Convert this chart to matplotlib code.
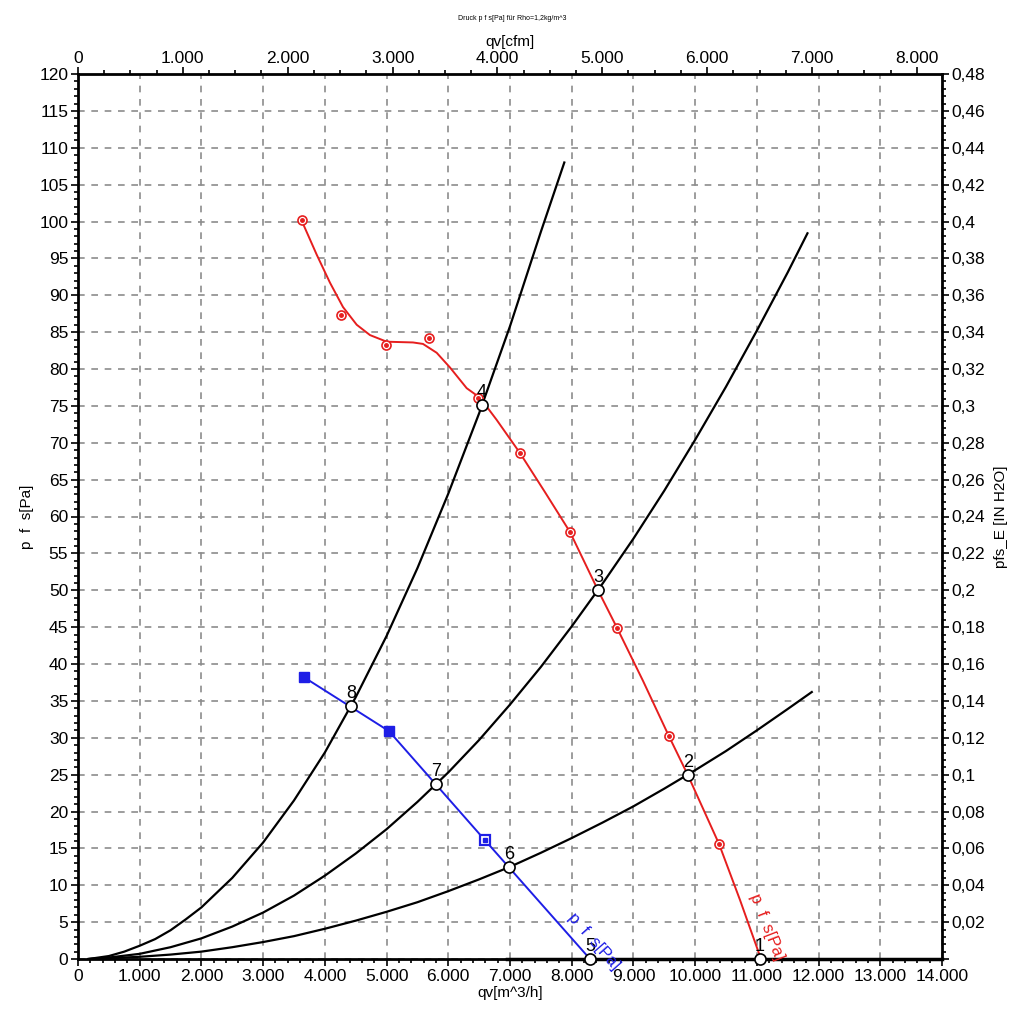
import numpy as np
import matplotlib
matplotlib.use('Agg')
import matplotlib.pyplot as plt
from matplotlib.ticker import MultipleLocator, FuncFormatter

plt.rcParams['font.family'] = ['Liberation Sans', 'DejaVu Sans']

# fan curve p fs [Pa] (red), smooth line
red_q = [3625, 3868, 4083, 4294, 4516, 4731, 5002, 5428, 5590, 5812, 6028, 6298,
         6514, 6784, 7162, 7567, 7972, 8426, 8734, 9156, 9576, 9884, 10387, 10727, 11067]
red_p = [100.1, 95.5, 91.7, 88.4, 86.0, 84.6, 83.7, 83.6, 83.4, 82.2, 80.2, 77.4,
         76.1, 73.1, 68.6, 63.3, 57.9, 50.0, 44.9, 37.7, 30.2, 24.9, 15.6, 8.0, 0.0]
# measured points on red curve
red_mq = [3630, 4262, 4991, 5688, 6482, 7163, 7973, 8735, 9577, 10387]
red_mp = [100.2, 87.3, 83.3, 84.2, 76.1, 68.6, 57.9, 44.9, 30.2, 15.6]

# second fan curve (blue)
blue_q = [3662, 5039, 6595, 8296]
blue_p = [38.2, 30.9, 16.1, 0.0]

# system curves (black)
sysA_q = [170, 500, 750, 1000, 1250, 1500, 1750, 2000, 2500, 3000, 3500, 4000, 4500,
          5000, 5500, 6000, 6500, 7000, 7500, 7880]
sysA_p = [0.0, 0.4, 1.0, 1.8, 2.7, 3.9, 5.4, 7.0, 11.0, 15.8, 21.5, 28.0, 35.5,
          43.8, 53.0, 63.1, 74.0, 85.8, 98.6, 108.0]
sysB_q = [170, 500, 1000, 1500, 2000, 2500, 3000, 3500, 4000, 4500, 5000, 5500, 6000,
          6500, 7000, 7500, 8000, 8500, 9000, 9500, 10000, 10500, 11000, 11500, 11820]
sysB_p = [0.0, 0.2, 0.7, 1.6, 2.8, 4.4, 6.3, 8.6, 11.3, 14.3, 17.6, 21.3, 25.3,
          29.7, 34.5, 39.6, 45.1, 50.9, 57.0, 63.5, 70.4, 77.6, 85.2, 93.1, 98.4]
sysC_q = [170, 500, 1000, 1500, 2000, 2500, 3000, 3500, 4000, 4500, 5000, 5500, 6000,
          6500, 7000, 7500, 8000, 8500, 9000, 9500, 10000, 10500, 11000, 11500, 11890]
sysC_p = [0.0, 0.1, 0.3, 0.6, 1.0, 1.6, 2.3, 3.1, 4.1, 5.2, 6.4, 7.7, 9.2,
          10.8, 12.5, 14.4, 16.4, 18.5, 20.7, 23.1, 25.6, 28.2, 31.0, 33.9, 36.2]

# operating points
op_labels = ['1', '2', '3', '4', '5', '6', '7', '8']
op_q = [11052, 9884, 8426, 6547, 8296, 6984, 5801, 4424]
op_p = [0.0, 24.9, 50.0, 75.1, 0.0, 12.5, 23.7, 34.3]

CFM = 1.699
INH2O = 0.004


def thousands(v, pos):
    return '{:,}'.format(int(round(v))).replace(',', '.')


def comma(v, pos):
    if v < 1e-6:
        return ''
    return ('%.2f' % v).rstrip('0').replace('.', ',')


fig = plt.figure(figsize=(10.24, 10.17), dpi=100)
ax = fig.add_axes([78 / 1024, 58 / 1017, 864 / 1024, 885 / 1017])

ax.set_xlim(0, 14000)
ax.set_ylim(0, 120)
ax.xaxis.set_major_locator(MultipleLocator(1000))
ax.xaxis.set_minor_locator(MultipleLocator(200))
ax.yaxis.set_major_locator(MultipleLocator(5))
ax.yaxis.set_minor_locator(MultipleLocator(1))
ax.xaxis.set_major_formatter(FuncFormatter(thousands))
ax.grid(True, which='major', color='#8c8c8c', linestyle=(0, (4, 4)), linewidth=1.2)
ax.tick_params(which='both', direction='out', labelsize=12.5, width=1.2, pad=2)
ax.tick_params(which='major', length=5)
ax.tick_params(which='minor', length=3)
for s in ax.spines.values():
    s.set_linewidth(2)

ax.plot(sysA_q, sysA_p, color='black', lw=1.6, zorder=3)
ax.plot(sysB_q, sysB_p, color='black', lw=1.6, zorder=3)
ax.plot(sysC_q, sysC_p, color='black', lw=1.6, zorder=3)
ax.plot([6950, 14000], [0, 0], color='black', lw=2.5, zorder=3, clip_on=False)

ax.plot(red_q, red_p, color='#e61e1e', lw=1.4, zorder=4)
ax.plot(red_mq, red_mp, 'o', ms=6.5, mfc='white', mec='#e61e1e', mew=1.2, zorder=5)
ax.plot(red_mq, red_mp, 'o', ms=2.5, color='#e61e1e', zorder=6)

ax.plot(blue_q, blue_p, color='#1e1ee6', lw=1.4, zorder=4)
ax.plot(blue_q[:2], blue_p[:2], 's', ms=7.5, color='#1e1ee6', zorder=5)
ax.plot(blue_q[2:3], blue_p[2:3], 's', ms=7, mfc='white', mec='#1e1ee6', mew=1.6, zorder=5)
ax.plot(blue_q[2:3], blue_p[2:3], 's', ms=2.5, color='#1e1ee6', zorder=6)

ax.plot(op_q, op_p, 'o', ms=8, mfc='white', mec='black', mew=1.2, zorder=7, clip_on=False)
for lab, q, p in zip(op_labels, op_q, op_p):
    ax.annotate(lab, (q, p), xytext=(0, 3), textcoords='offset points',
                ha='center', va='bottom', fontsize=13, zorder=8)

ax.text(8350, 2.4, 'p  f  s[Pa]', color='#1e1ee6', fontsize=12, rotation=-48.7,
        rotation_mode='anchor', ha='center', va='center', zorder=8)
ax.text(11160, 4.3, 'p  f  s[Pa]', color='#e61e1e', fontsize=12, rotation=-68.6,
        rotation_mode='anchor', ha='center', va='center', zorder=8)

ax.set_xlabel('qv[m^3/h]', fontsize=11, labelpad=2)
ax.set_ylabel('p  f  s[Pa]', fontsize=11, labelpad=4)

top = ax.secondary_xaxis('top', functions=(lambda x: x / CFM, lambda x: x * CFM))
top.xaxis.set_major_locator(MultipleLocator(1000))
top.xaxis.set_minor_locator(MultipleLocator(250))
top.xaxis.set_major_formatter(FuncFormatter(thousands))
top.tick_params(which='both', direction='out', labelsize=12.5, width=1.2, pad=1)
top.tick_params(which='major', length=5)
top.tick_params(which='minor', length=3)
top.set_xlabel('qv[cfm]', fontsize=11, labelpad=3)

right = ax.secondary_yaxis('right', functions=(lambda y: y * INH2O, lambda y: y / INH2O))
right.yaxis.set_major_locator(MultipleLocator(0.02))
right.yaxis.set_minor_locator(MultipleLocator(0.004))
right.yaxis.set_major_formatter(FuncFormatter(comma))
right.tick_params(which='both', direction='out', labelsize=12.5, width=1.2, pad=2)
right.tick_params(which='major', length=5)
right.tick_params(which='minor', length=3)
right.set_ylabel('pfs_E [IN H2O]', fontsize=11, labelpad=6)

fig.text(0.5, 1 - 18 / 1017, 'Druck p f s[Pa] für Rho=1,2kg/m^3', fontsize=5,
         ha='center', va='center')

fig.savefig('out.png', dpi=100)
